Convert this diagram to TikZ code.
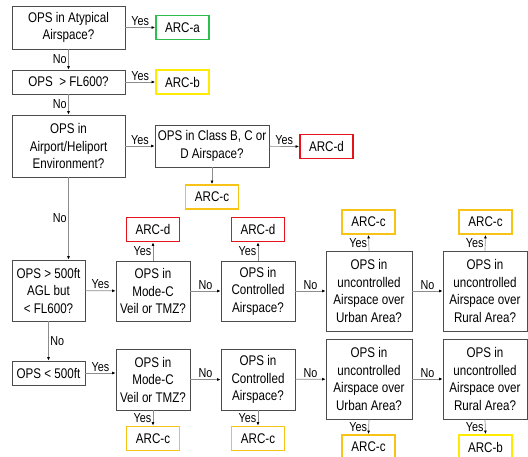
\documentclass[tikz,border=0pt]{standalone}
\usepackage{fontspec}
\setmainfont[FakeStretch=0.83]{Liberation Sans}
\usetikzlibrary{arrows.meta}
\definecolor{arcgreen}{HTML}{2DBE4E}
\definecolor{arcyellow}{HTML}{FFEB00}
\definecolor{arcamber}{HTML}{F7C416}
\definecolor{arcred}{HTML}{E3151B}
\begin{document}
\begin{tikzpicture}[x=1pt,y=-1pt,
  font=\fontsize{14}{17.5}\selectfont,
  qbox/.style={draw=black!70,line width=.7pt,align=center,inner sep=0pt},
  arcbox/.style={draw=#1,line width=1.8pt,inner sep=0pt,minimum width=53pt,minimum height=24pt},
  arr/.style={draw=black!45,line width=.7pt,-{Latex[length=3.5pt,width=3pt,black]}},
  lbl/.style={font=\fontsize{13}{15}\selectfont,inner sep=1.5pt}]
\useasboundingbox (0,0) rectangle (528,456);
% first column
\node[qbox,minimum width=113pt,minimum height=43pt] (atyp) at (68.5,27.5) {OPS in Atypical\\Airspace?};
\node[qbox,minimum width=113pt,minimum height=24pt] (fl) at (68.5,82) {OPS \ > FL600?};
\node[qbox,minimum width=113pt,minimum height=62pt] (apt) at (68.5,146) {OPS in\\Airport/Heliport\\Environment?};
\node[qbox,minimum width=114pt,minimum height=42pt] (cls) at (212,146) {OPS in Class B, C or\\D Airspace?};
\node[arcbox=arcgreen] (arca) at (182.5,27.5) {ARC-a};
\node[arcbox=arcyellow] (arcb) at (182.5,82) {ARC-b};
\node[arcbox=arcred] (arcd1) at (326.5,146.5) {ARC-d};
\node[arcbox=arcamber] (arcc1) at (212,197) {ARC-c};
% row above 500ft
\node[qbox,minimum width=73pt,minimum height=61pt] (high) at (48.5,290.5) {OPS > 500ft\\AGL but\\< FL600?};
\node[qbox,minimum width=74pt,minimum height=60pt] (modea) at (153,291) {OPS in\\Mode-C\\Veil or TMZ?};
\node[qbox,minimum width=74pt,minimum height=60pt] (ctrla) at (258,291) {OPS in\\Controlled\\Airspace?};
\node[qbox,minimum width=86pt,minimum height=80pt] (urba) at (369,291) {OPS in\\uncontrolled\\Airspace over\\Urban Area?};
\node[qbox,minimum width=84pt,minimum height=80pt] (rura) at (485,291) {OPS in\\uncontrolled\\Airspace over\\Rural Area?};
\node[arcbox=arcred] (arcd2) at (153,229.5) {ARC-d};
\node[arcbox=arcred] (arcd3) at (258,229.5) {ARC-d};
\node[arcbox=arcamber] (arcc2) at (368.5,222) {ARC-c};
\node[arcbox=arcamber] (arcc3) at (485.5,222) {ARC-c};
% row below 500ft
\node[qbox,minimum width=73pt,minimum height=24pt] (low) at (48.5,373) {OPS < 500ft};
\node[qbox,minimum width=74pt,minimum height=61pt] (modeb) at (153,379.5) {OPS in\\Mode-C\\Veil or TMZ?};
\node[qbox,minimum width=74pt,minimum height=61pt] (ctrlb) at (258,379.5) {OPS in\\Controlled\\Airspace?};
\node[qbox,minimum width=86pt,minimum height=80pt] (urbb) at (369,379) {OPS in\\uncontrolled\\Airspace over\\Urban Area?};
\node[qbox,minimum width=84pt,minimum height=80pt] (rurb) at (485,379) {OPS in\\uncontrolled\\Airspace over\\Rural Area?};
\node[arcbox=arcamber] (arcc4) at (153,438.5) {ARC-c};
\node[arcbox=arcamber] (arcc5) at (258,438.5) {ARC-c};
\node[arcbox=arcamber] (arcc6) at (368.5,447) {ARC-c};
\node[arcbox=arcyellow] (arcb2) at (485.5,447) {ARC-b};
% connectors
\draw[arr] (atyp) -- node[lbl,above] {Yes} (arca);
\draw[arr] (atyp) -- node[lbl,left] {No} (fl);
\draw[arr] (fl) -- node[lbl,above] {Yes} (arcb);
\draw[arr] (fl) -- node[lbl,left] {No} (apt);
\draw[arr] (apt) -- node[lbl,above] {Yes} (cls);
\draw[arr] (cls) -- node[lbl,above] {Yes} (arcd1.west);
\draw[arr] (cls) -- (arcc1);
\draw[arr] (apt.south) -- node[lbl,left] {No} (apt.south |- high.north);
\draw[arr] (high) -- node[lbl,above] {Yes} (modea);
\draw[arr] (modea) -- node[lbl,left] {Yes} (arcd2);
\draw[arr] (modea) -- node[lbl,above] {No} (ctrla);
\draw[arr] (ctrla) -- node[lbl,left] {Yes} (arcd3);
\draw[arr] (ctrla) -- node[lbl,above] {No} (urba);
\draw[arr] (urba.north) -- node[lbl,left] {Yes} (arcc2.south);
\draw[arr] (urba) -- node[lbl,above] {No} (rura);
\draw[arr] (rura.north) -- node[lbl,left] {Yes} (arcc3.south);
\draw[arr] (high) -- node[lbl,right] {No} (low);
\draw[arr] (low.east) -- node[lbl,above] {Yes} (low.east -| modeb.west);
\draw[arr] (modeb) -- node[lbl,left] {Yes} (arcc4);
\draw[arr] (modeb) -- node[lbl,above] {No} (ctrlb);
\draw[arr] (ctrlb) -- node[lbl,left] {Yes} (arcc5);
\draw[arr] (ctrlb) -- node[lbl,above] {No} (urbb);
\draw[arr] (urbb.south) -- node[lbl,left] {Yes} (arcc6.north);
\draw[arr] (urbb) -- node[lbl,above] {No} (rurb);
\draw[arr] (rurb.south) -- node[lbl,left] {Yes} (arcb2.north);
\end{tikzpicture}
\end{document}
